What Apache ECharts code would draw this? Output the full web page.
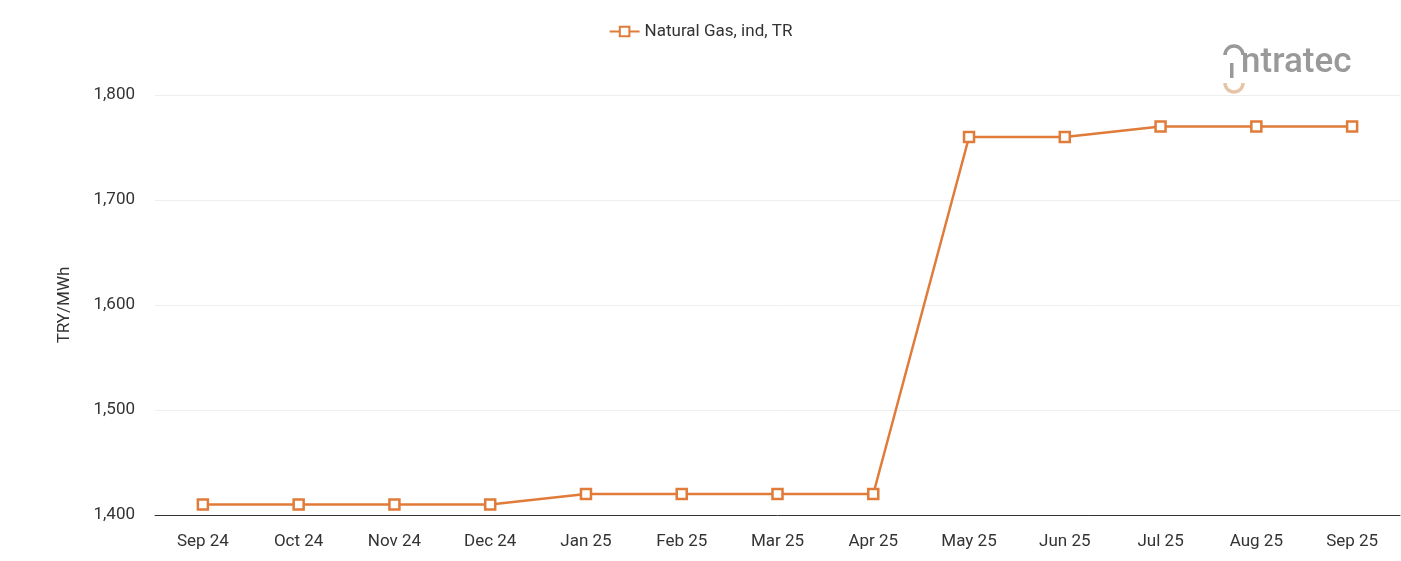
<!DOCTYPE html>
<html><head><meta charset="utf-8">
<script src="https://cdn.jsdelivr.net/npm/echarts@6/dist/echarts.min.js"></script>
<style>html,body{margin:0;padding:0;background:#fff}#main{width:1401px;height:561px}</style>
</head><body><div id="main"></div>
<script>
var categories = ['Sep 24','Oct 24','Nov 24','Dec 24','Jan 25','Feb 25','Mar 25','Apr 25','May 25','Jun 25','Jul 25','Aug 25','Sep 25'];
var gasValues = [1410,1410,1410,1410,1420,1420,1420,1420,1760,1760,1770,1770,1770];
var seriesName = 'Natural Gas, ind, TR';

var chart = echarts.init(document.getElementById('main'));
chart.setOption({
  animation: false,
  textStyle: { fontFamily: 'Roboto' },
  legend: {
    top: 18, left: 'center', itemWidth: 30, itemHeight: 12,
    textStyle: { fontSize: 17, color: '#333' },
    data: [seriesName]
  },
  graphic: [
    { type: 'text', left: 1241, top: 46, style: { text: 'ntratec', fontSize: 35, fontWeight: 500, fill: '#999', fontFamily: 'Roboto' } },
    { type: 'rect', shape: { x: 1230, y: 63, width: 3.5, height: 15 }, style: { fill: '#999' } },
    { type: 'arc', shape: { cx: 1234, cy: 55, r: 9, startAngle: Math.PI, endAngle: 0, clockwise: true }, style: { stroke: '#999', lineWidth: 3.5, fill: null } },
    { type: 'arc', shape: { cx: 1234, cy: 83, r: 9, startAngle: 0, endAngle: Math.PI, clockwise: true }, style: { stroke: '#e8c4a6', lineWidth: 3.5, fill: null } }
  ],
  grid: { left: 155, right: 1, top: 95, bottom: 46 },
  xAxis: {
    type: 'category', data: categories, boundaryGap: true,
    axisLine: { lineStyle: { color: '#333' } },
    axisTick: { show: false },
    axisLabel: { color: '#333', fontSize: 17, margin: 18 }
  },
  yAxis: {
    type: 'value', min: 1400, max: 1800, interval: 100,
    name: 'TRY/MWh', nameLocation: 'middle', nameGap: 82,
    nameTextStyle: { fontSize: 17, color: '#333' },
    axisLine: { show: false }, axisTick: { show: false },
    axisLabel: { color: '#333', fontSize: 17, margin: 20,
      formatter: function (v) { return v.toLocaleString('en-US'); } },
    splitLine: { lineStyle: { color: '#eee' } }
  },
  series: [{
    name: seriesName, type: 'line', data: gasValues,
    symbol: 'rect', symbolSize: 10,
    lineStyle: { color: '#e07b39', width: 2.5 },
    itemStyle: { color: '#fff', borderColor: '#e07b39', borderWidth: 2.5 }
  }]
});
</script></body></html>
